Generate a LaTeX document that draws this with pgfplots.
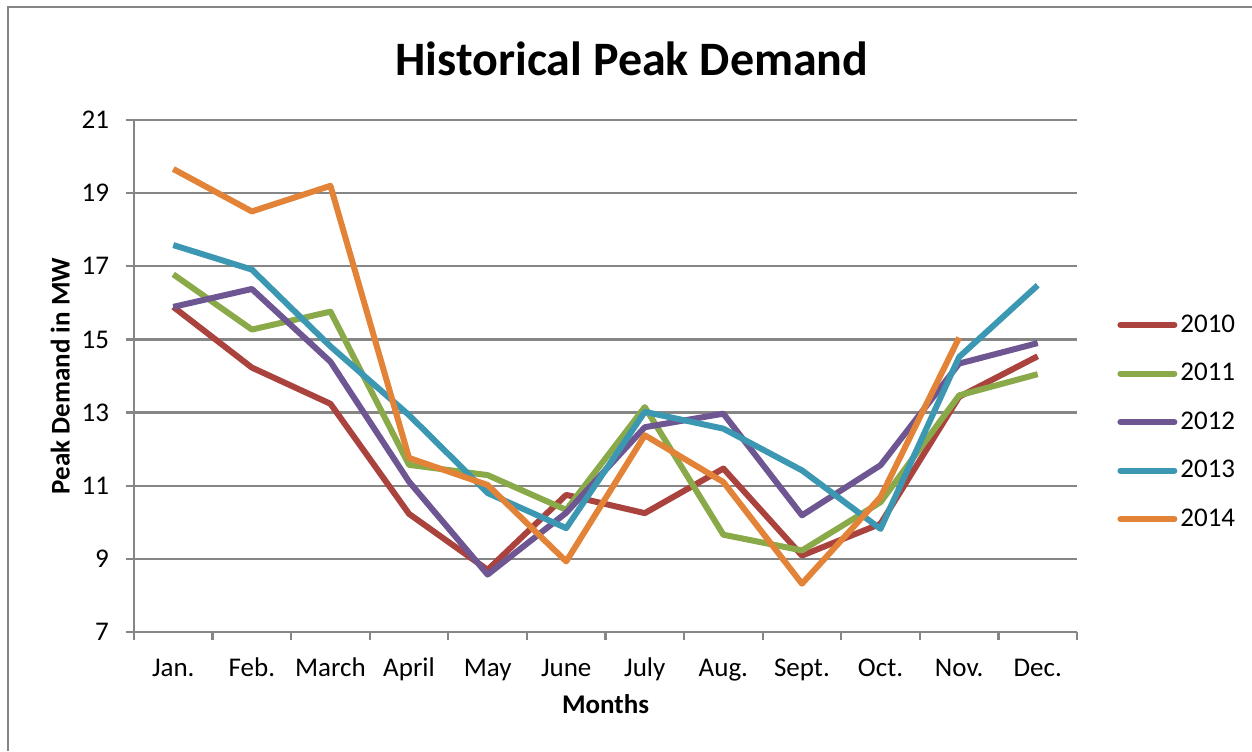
\documentclass[border=0pt]{standalone}
\usepackage{pgfplots}
\pgfplotsset{compat=1.18}
\usepackage{fontspec}
\setmainfont{Carlito}

\definecolor{c2010}{RGB}{170,66,62}
\definecolor{c2011}{RGB}{138,170,74}
\definecolor{c2012}{RGB}{110,86,146}
\definecolor{c2013}{RGB}{60,152,178}
\definecolor{c2014}{RGB}{226,131,55}
\definecolor{gridgray}{RGB}{134,134,134}

\begin{document}
\begin{tikzpicture}
\useasboundingbox (0pt,0pt) rectangle (626pt,375.5pt);
% chart frame (left and top edges visible)
\draw[gridgray, line width=1pt] (4pt,0pt) -- (4pt,372pt) -- (626pt,372pt);
\node[font=\fontsize{24}{28}\selectfont\bfseries] at (316pt,346pt) {Historical Peak Demand};

\begin{axis}[
  at={(67pt,59.5pt)}, anchor=south west,
  scale only axis,
  width=471.5pt, height=256pt,
  xmin=0.5, xmax=12.5,
  ymin=7, ymax=21,
  xtick={1,...,12},
  xticklabels={Jan.,Feb.,March,April,May,June,July,Aug.,Sept.,Oct.,Nov.,Dec.},
  minor xtick={0.5,1.5,...,12.5},
  ytick={7,9,...,21},
  ymajorgrids,
  grid style={gridgray, line width=1.1pt},
  axis x line*=bottom, axis y line*=left,
  axis line style={gridgray, line width=1.1pt, -},
  tick align=outside,
  major x tick style={draw=none},
  minor x tick style={gridgray, line width=1.1pt},
  major y tick style={gridgray, line width=1.1pt},
  major tick length=4pt, minor tick length=4pt,
  tick label style={font=\fontsize{13.5}{16}\selectfont},
  /pgf/number format/assume math mode=true,
  yticklabel style={xshift=-5pt},
  xticklabel style={yshift=-5pt, text height=9.5pt, text depth=2.5pt},
  xlabel={\bfseries Months},
  ylabel={\bfseries Peak Demand in MW},
  label style={font=\fontsize{13.5}{16}\selectfont},
  xlabel style={yshift=0pt},
  ylabel style={yshift=-1pt},
  legend style={at={(axis description cs:1,0.41)}, anchor=west, xshift=20pt,
    draw=none, fill=none, inner sep=0pt, font=\fontsize{13.5}{16}\selectfont,
    row sep=10pt, legend cell align=left, nodes={inner xsep=1.5pt}},
  legend image code/.code={\draw[#1, line width=3pt, line cap=round] (0pt,0pt) -- (27pt,0pt);},
  every axis plot/.append style={line width=3pt, line join=round, mark=none},
]
\addplot[c2010] coordinates {(1,15.89) (2,14.23) (3,13.24) (4,10.23) (5,8.70) (6,10.75) (7,10.25) (8,11.47) (9,9.09) (10,9.96) (11,13.43) (12,14.54)};
\addlegendentry{2010}
\addplot[c2011] coordinates {(1,16.78) (2,15.27) (3,15.76) (4,11.57) (5,11.29) (6,10.34) (7,13.15) (8,9.66) (9,9.23) (10,10.55) (11,13.47) (12,14.05)};
\addlegendentry{2011}
\addplot[c2012] coordinates {(1,15.89) (2,16.38) (3,14.39) (4,11.11) (5,8.57) (6,10.26) (7,12.60) (8,12.97) (9,10.19) (10,11.56) (11,14.34) (12,14.90)};
\addlegendentry{2012}
\addplot[c2013] coordinates {(1,17.58) (2,16.91) (3,14.81) (4,12.93) (5,10.80) (6,9.84) (7,13.02) (8,12.56) (9,11.42) (10,9.82) (11,14.52) (12,16.48)};
\addlegendentry{2013}
\addplot[c2014] coordinates {(1,19.66) (2,18.50) (3,19.20) (4,11.76) (5,11.02) (6,8.93) (7,12.38) (8,11.10) (9,8.32) (10,10.69) (11,15.05)};
\addlegendentry{2014}
\end{axis}
\end{tikzpicture}
\end{document}
